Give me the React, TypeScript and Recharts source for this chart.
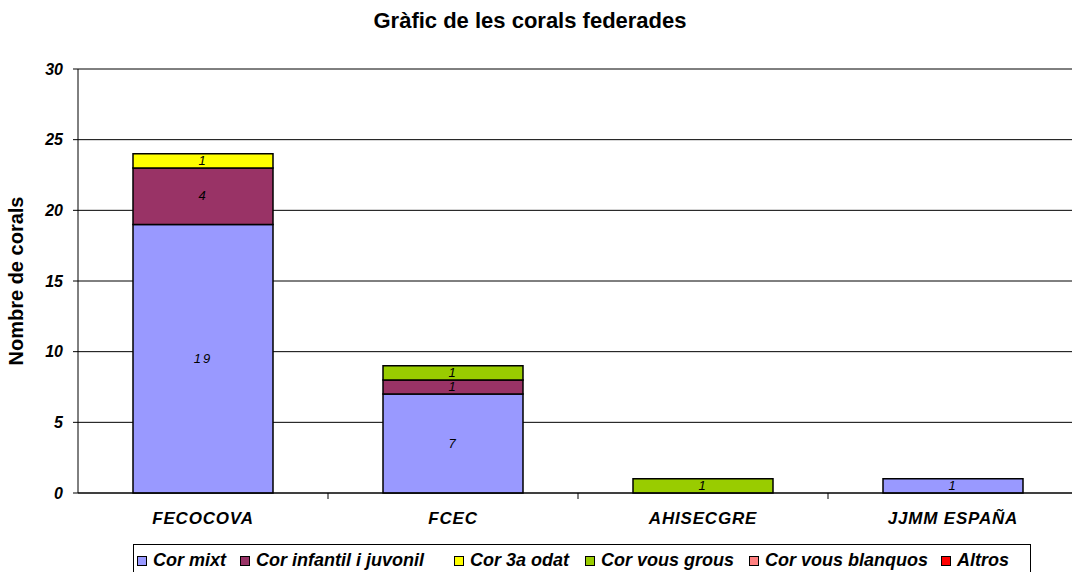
import React from 'react';
import { BarChart, Bar, XAxis, YAxis, CartesianGrid, LabelList, Legend } from 'recharts';

const categories = ['FECOCOVA', 'FCEC', 'AHISECGRE', 'JJMM ESPAÑA'];
const corMixt = [19, 7, null, 1];
const corInfantil = [4, 1, null, null];
const cor3a = [1, null, null, null];
const corVousGrous = [null, 1, 1, null];
const corVousBlanquos = [null, null, null, null];
const altros = [null, null, null, null];
const yTicks = [0, 5, 10, 15, 20, 25, 30];

const seriesDefs = [
  { key: 'mixt', name: 'Cor mixt', values: corMixt, color: '#9999FF' },
  { key: 'infantil', name: 'Cor infantil i juvonil', values: corInfantil, color: '#993366' },
  { key: 'tercera', name: 'Cor 3a odat', values: cor3a, color: '#FFFF00' },
  { key: 'grous', name: 'Cor vous grous', values: corVousGrous, color: '#99CC00' },
  { key: 'blanquos', name: 'Cor vous blanquos', values: corVousBlanquos, color: '#FF8080' },
  { key: 'altros', name: 'Altros', values: altros, color: '#FF0000' },
];
const legendGaps = [14, 30, 16, 15, 13, 0];

const data = categories.map((c, i) => {
  const row: any = { name: c };
  seriesDefs.forEach((s) => { row[s.key] = s.values[i]; });
  return row;
});

const W = 1080;
const H = 572;
const LEFT = 78;
const RIGHT = 2;
const band = (W - LEFT - RIGHT) / categories.length;
const FONT = '"Liberation Sans", Arial, sans-serif';

const XTick = (props: any) => {
  const { x, y, payload } = props;
  return (
    <g>
      <line x1={x + band / 2} y1={y - 8} x2={x + band / 2} y2={y - 2} stroke="#000" />
      <text x={x} y={y + 23} textAnchor="middle" fontFamily={FONT} fontSize={17} fontWeight="bold" fontStyle="italic" letterSpacing={0.8} fill="#000">
        {payload.value}
      </text>
    </g>
  );
};

const renderLabel = (props: any) => {
  const { x, y, width, height, value } = props;
  if (value === null || value === undefined || value === 0) return null;
  return (
    <text x={x + width / 2} y={y + height / 2 + 4} textAnchor="middle" fontFamily={FONT} fontSize={13} fontStyle="italic" letterSpacing={2} fill="#000">
      {value}
    </text>
  );
};

const LegendContent = () => (
  <div style={{ boxSizing: 'border-box', width: 898, height: 40, border: '1px solid #000', background: '#fff', display: 'flex', alignItems: 'flex-start', paddingTop: 5, paddingLeft: 3, fontFamily: FONT, fontSize: 18, fontWeight: 'bold', fontStyle: 'italic', color: '#000', whiteSpace: 'nowrap' }}>
    {seriesDefs.map((s, i) => (
      <div key={s.key} style={{ display: 'flex', alignItems: 'center', marginRight: legendGaps[i] }}>
        <span style={{ display: 'inline-block', width: 8, height: 8, background: s.color, border: '1px solid #000', marginRight: 6 }} />
        <span>{s.name}</span>
      </div>
    ))}
  </div>
);

export default function App() {
  return (
    <div style={{ position: 'absolute', left: 0, top: 0, width: 1072, height: 572, overflow: 'hidden', background: '#fff' }}>
      <div style={{ position: 'absolute', left: 0, top: 8, width: 1060, textAlign: 'center', fontFamily: FONT, fontSize: 22, fontWeight: 'bold', color: '#000' }}>
        Gràfic de les corals federades
      </div>
      <div style={{ position: 'absolute', left: 0, top: 0 }}>
        <BarChart width={W} height={H} data={data} margin={{ top: 69, right: RIGHT, left: 0, bottom: 0 }} barCategoryGap="22%">
          <CartesianGrid vertical={false} stroke="#000" strokeOpacity={1} />
          <XAxis dataKey="name" tick={<XTick />} tickLine={false} axisLine={{ stroke: '#000' }} height={51} interval={0} />
          <YAxis
            domain={[0, 30]}
            ticks={yTicks}
            width={LEFT}
            axisLine={{ stroke: '#000' }}
            tickLine={{ stroke: '#000' }}
            tickSize={5}
            tickMargin={10}
            tick={{ fontFamily: FONT, fontSize: 16, fontWeight: 'bold', fontStyle: 'italic', fill: '#000' }}
            label={{ value: 'Nombre de corals', angle: -90, position: 'insideLeft', offset: 16, style: { fontFamily: FONT, fontSize: 20, fontWeight: 'bold', fill: '#000', textAnchor: 'middle' } }}
          />
          <Legend
            verticalAlign="bottom"
            content={<LegendContent />}
            wrapperStyle={{ position: 'absolute', left: 133, top: 544, width: 898, height: 28 }}
          />
          {seriesDefs.map((s) => (
            <Bar key={s.key} dataKey={s.key} name={s.name} stackId="a" fill={s.color} stroke="#000" strokeWidth={1.5} isAnimationActive={false}>
              <LabelList dataKey={s.key} content={renderLabel} />
            </Bar>
          ))}
        </BarChart>
      </div>
    </div>
  );
}
